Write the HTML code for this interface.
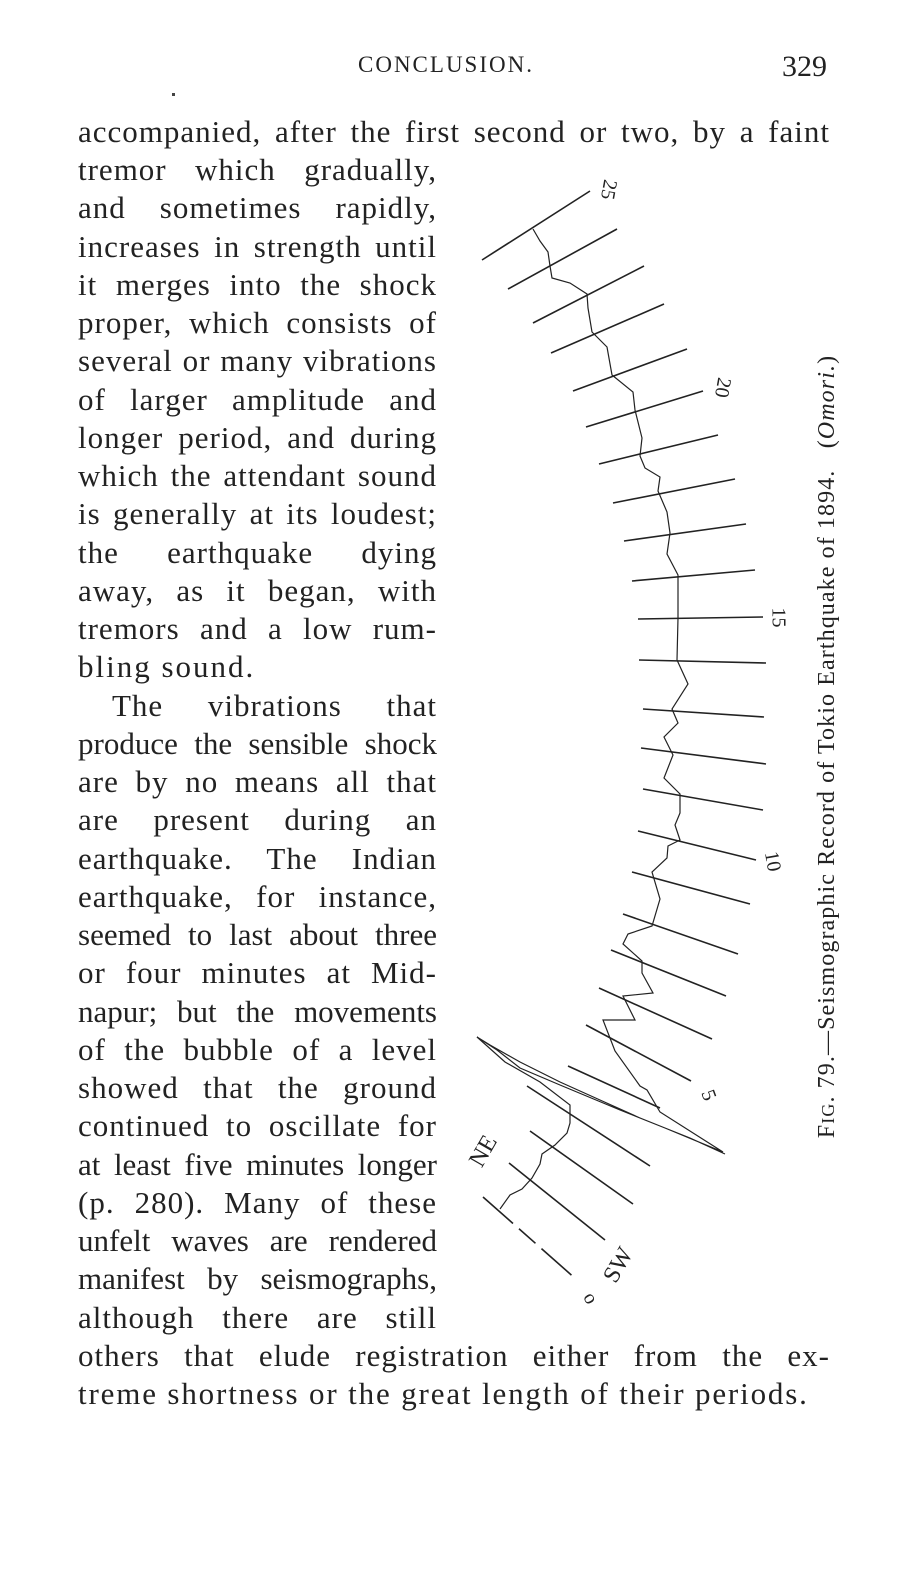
<!DOCTYPE html>
<html><head><meta charset="utf-8"><style>
body{margin:0;background:#fff;}
#p{position:relative;width:900px;height:1574px;overflow:hidden;background:#fff;font-family:"Liberation Serif",serif;color:#222;}
.l{position:absolute;left:78px;font-size:31px;letter-spacing:1px;line-height:38px;height:38px;white-space:nowrap;text-align:justify;text-align-last:justify;}
.s{width:359px}.f{width:752px}
.lab{position:absolute;font-size:20px;font-family:"Liberation Serif",serif;}
</style></head><body><div id="p">
<div style="position:absolute;left:358px;top:52px;font-size:23px;letter-spacing:2px;">CONCLUSION.</div>
<div style="position:absolute;left:782px;top:50px;font-size:30px;">329</div>
<div style="position:absolute;left:172px;top:93px;width:3px;height:3px;background:#444"></div>
<svg style="position:absolute;left:0;top:0" width="900" height="1574" fill="none" stroke="#222" stroke-width="1.6">
<g>
<line x1="482" y1="260" x2="590" y2="191"/>
<line x1="508" y1="289" x2="617" y2="229"/>
<line x1="533" y1="323" x2="644" y2="266"/>
<line x1="551" y1="353" x2="664" y2="304"/>
<line x1="573" y1="391" x2="687" y2="349"/>
<line x1="586" y1="427" x2="703" y2="391"/>
<line x1="599" y1="464" x2="718" y2="435"/>
<line x1="613" y1="503" x2="735" y2="479"/>
<line x1="624" y1="541" x2="746" y2="524"/>
<line x1="632" y1="581" x2="755" y2="570"/>
<line x1="638" y1="619" x2="763" y2="617"/>
<line x1="639" y1="660" x2="766" y2="663"/>
<line x1="643" y1="709" x2="764" y2="717"/>
<line x1="641" y1="748" x2="766" y2="764"/>
<line x1="643" y1="789" x2="763" y2="810"/>
<line x1="638" y1="831" x2="756" y2="860"/>
<line x1="632" y1="872" x2="750" y2="904"/>
<line x1="623" y1="914" x2="738" y2="954"/>
<line x1="611" y1="950" x2="726" y2="996"/>
<line x1="599" y1="988" x2="712" y2="1039"/>
<line x1="586" y1="1025" x2="691" y2="1081"/>
<line x1="568" y1="1066" x2="660" y2="1108"/>
<line x1="527" y1="1086" x2="650" y2="1166"/>
<line x1="530" y1="1131" x2="633" y2="1204"/>
<line x1="509" y1="1163" x2="605" y2="1240"/>
<line x1="483" y1="1197" x2="577" y2="1280" stroke-dasharray="40 8 22 8"/>
</g>
<polyline stroke-width="1.2" points="533,229 540,241 548,252 550,266 552,278 570,283 587,294 588,308 592,332 607,347 612,375 633,392 635,410 642,438 640,456 645,468 660,477 658,491 667,512 670,533 667,554 678,575 678,618 677,660 688,684 672,709 678,723 664,737 673,755 664,778 680,794 680,813 675,825 680,840 668,846 667,858 652,872 660,899 652,926 628,934 623,944 642,961 642,973 653,993 623,996 635,1020 603,1020 615,1051 640,1086 647,1090 660,1112 723,1152 665,1128 620,1110 560,1085 520,1068 497,1050 477,1037 490,1045 520,1062 560,1082 600,1100 640,1118 690,1138 725,1154"/>
<polyline stroke-width="1.2" points="477,1037 505,1062 540,1082 570,1105 570,1123 567,1133 555,1145 542,1154 540,1164 532,1178 522,1189 510,1195 500,1209"/>
</svg>
<div class="lab" style="left:598px;top:178px;transform:rotate(100deg)">25</div>
<div class="lab" style="left:712px;top:376px;transform:rotate(100deg)">20</div>
<div class="lab" style="left:768px;top:606px;transform:rotate(90deg)">15</div>
<div class="lab" style="left:762px;top:850px;transform:rotate(80deg)">10</div>
<div class="lab" style="left:703px;top:1084px;transform:rotate(70deg)">5</div>
<div class="lab" style="left:585px;top:1287px;transform:rotate(60deg)">o</div>
<div class="lab" style="left:468px;top:1138px;font-size:24px;transform:rotate(-60deg)">NE</div>
<div class="lab" style="left:601px;top:1252px;font-size:24px;transform:rotate(-60deg)">SW</div>
<div style="position:absolute;left:425px;top:733px;width:805px;font-size:24px;letter-spacing:1.1px;white-space:nowrap;transform:rotate(-90deg);transform-origin:center;text-align:center;">F<span style="font-size:18px">IG</span>. 79.—Seismographic Record of Tokio Earthquake of 1894. &nbsp; (<i>Omori.</i>)</div>
<div class="l f" style="top:113px">accompanied, after the first second or two, by a faint</div>
<div class="l s" style="top:151px">tremor which gradually,</div>
<div class="l s" style="top:189px">and sometimes rapidly,</div>
<div class="l s" style="top:228px">increases in strength until</div>
<div class="l s" style="top:266px">it merges into the shock</div>
<div class="l s" style="top:304px">proper, which consists of</div>
<div class="l s" style="top:342px">several or many vibrations</div>
<div class="l s" style="top:381px">of larger amplitude and</div>
<div class="l s" style="top:419px">longer period, and during</div>
<div class="l s" style="top:457px">which the attendant sound</div>
<div class="l s" style="top:495px">is generally at its loudest;</div>
<div class="l s" style="top:534px">the earthquake dying</div>
<div class="l s" style="top:572px">away, as it began, with</div>
<div class="l s" style="top:610px">tremors and a low rum-</div>
<div class="l" style="top:648px;letter-spacing:2px">bling sound.</div>
<div class="l s" style="top:687px;left:112px;width:325px">The vibrations that</div>
<div class="l s" style="top:725px;letter-spacing:0">produce the sensible shock</div>
<div class="l s" style="top:763px">are by no means all that</div>
<div class="l s" style="top:801px">are present during an</div>
<div class="l s" style="top:840px">earthquake. The Indian</div>
<div class="l s" style="top:878px">earthquake, for instance,</div>
<div class="l s" style="top:916px;letter-spacing:0">seemed to last about three</div>
<div class="l s" style="top:954px">or four minutes at Mid-</div>
<div class="l s" style="top:993px;letter-spacing:0">napur; but the movements</div>
<div class="l s" style="top:1031px">of the bubble of a level</div>
<div class="l s" style="top:1069px">showed that the ground</div>
<div class="l s" style="top:1107px">continued to oscillate for</div>
<div class="l s" style="top:1146px;letter-spacing:0">at least five minutes longer</div>
<div class="l s" style="top:1184px">(p. 280). Many of these</div>
<div class="l s" style="top:1222px;letter-spacing:0">unfelt waves are rendered</div>
<div class="l s" style="top:1260px;letter-spacing:0">manifest by seismographs,</div>
<div class="l s" style="top:1299px">although there are still</div>
<div class="l f" style="top:1337px">others that elude registration either from the ex-</div>
<div class="l" style="top:1375px;letter-spacing:1.85px">treme shortness or the great length of their periods.</div>
</div></body></html>
